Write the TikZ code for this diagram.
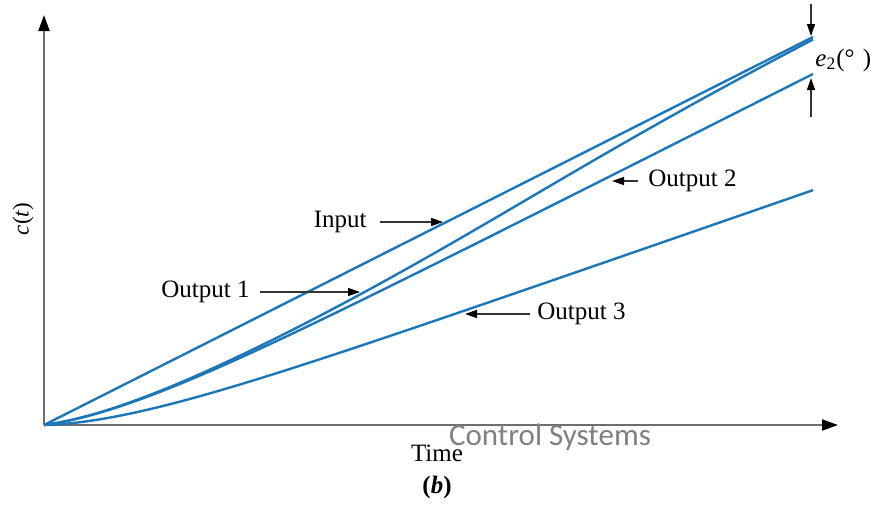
\documentclass[tikz,border=0pt]{standalone}
\usepackage{fontspec}
\setmainfont{Liberation Serif}
\newfontfamily\wmfont{Carlito}
\usetikzlibrary{arrows.meta}
\definecolor{curveblue}{RGB}{28,118,186}
\definecolor{axisgray}{RGB}{110,110,110}
\definecolor{markgray}{RGB}{128,128,128}
\begin{document}
\begin{tikzpicture}[x=0.5pt,y=-0.5pt,
  axis/.style={draw=axisgray,line width=1pt,-{Triangle[length=8pt,width=5.5pt,black]}},
  curve/.style={draw=curveblue,line width=1.2pt},
  pointer/.style={draw=black!80,line width=0.7pt,-{Triangle[length=6pt,width=4pt,black]}},
  lbl/.style={inner sep=0pt,font=\fontsize{12.5}{14}\selectfont},
  ]
\useasboundingbox (0,0) rectangle (870,504);

% axes
\coordinate (O) at (44,425);
\coordinate (ytop) at (44,15);
\coordinate (xend) at (838,425);
\draw[axis] (O) -- (ytop);
\draw[axis] (O) -- (xend);

% input ramp and the three responses
\draw[curve] (O) -- (813,37);
\draw[curve] plot[domain=0:769,samples=120,smooth]
  ({44+\x},{425-(0.5046*\x-37*(1-exp(-\x/100))/(1+exp((\x-480)/110)))});
\draw[curve] plot[domain=0:769,samples=120,smooth]
  ({44+\x},{425-(0.5046*\x-37*(1-exp(-\x/100)))});
\draw[curve] plot[domain=0:769,samples=120,smooth]
  ({44+\x},{425-(0.347*\x-32*(1-exp(-\x/100)))});

% labels with pointers
\node[lbl,anchor=east] (lin) at (367,222) {Input};
\coordinate (tin) at (443,222);
\draw[pointer,shorten <=6.5pt] (lin.east) -- (tin);

\node[lbl,anchor=east] (lo1) at (250,292) {Output 1};
\coordinate (to1) at (360,292);
\draw[pointer,shorten <=5pt] (lo1.east) -- (to1);

\node[lbl,anchor=west] (lo2) at (648,181) {Output 2};
\coordinate (to2) at (612,181);
\draw[pointer,shorten <=5pt] (lo2.west) -- (to2);

\node[lbl,anchor=west] (lo3) at (537,314) {Output 3};
\coordinate (to3) at (465,314);
\draw[pointer,shorten <=3.5pt] (lo3.west) -- (to3);

% steady-state error marker
\coordinate (etop) at (811,4);
\coordinate (etip) at (811,36);
\coordinate (ebot) at (811,117);
\coordinate (ebtip) at (811,78);
\draw[pointer] (etop) -- (etip);
\draw[pointer] (ebot) -- (ebtip);
\node[lbl,anchor=west] (err) at (815,60) {\textit{e}\textsubscript{2}(°\,\,)};

% axis titles
\node[lbl,rotate=90,font=\fontsize{11.5}{13}\selectfont] (cy) at (23,219) {\textit{c}(\textit{t})};
\node[lbl] (tx) at (437,453) {Time};
\node[lbl] (sub) at (437,487) {\textbf{(\textit{b})}};
\node[inner sep=0pt,text=markgray,font=\wmfont\fontsize{15.5}{17}\selectfont] (wm) at (550,437) {Control Systems};
\end{tikzpicture}
\end{document}
